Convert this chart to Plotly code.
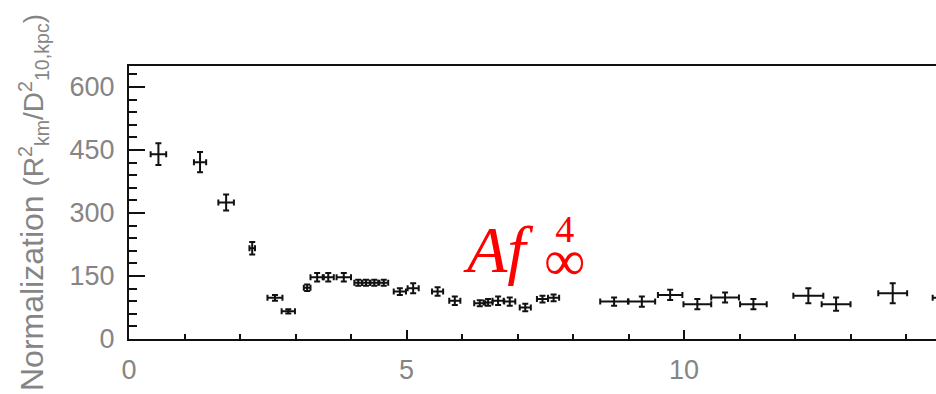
import plotly.graph_objects as go

# Normalization of the spectral fits versus time
time_s = [0.53, 1.28, 1.75, 2.22, 2.63, 2.87, 3.21, 3.39, 3.59, 3.87,
          4.13, 4.27, 4.42, 4.59, 4.88, 5.12, 5.56, 5.87, 6.32, 6.47,
          6.65, 6.86, 7.14, 7.45, 7.65, 8.74, 9.24, 9.75, 10.24, 10.74,
          11.25, 12.24, 12.74, 13.76, 14.75]
time_err = [0.14, 0.11, 0.14, 0.05, 0.135, 0.12, 0.06, 0.12, 0.10, 0.13,
            0.07, 0.07, 0.07, 0.08, 0.11, 0.10, 0.10, 0.10, 0.10, 0.08,
            0.10, 0.10, 0.10, 0.10, 0.10, 0.25, 0.24, 0.22, 0.25, 0.25,
            0.24, 0.27, 0.26, 0.26, 0.27]
norm = [440, 421, 325, 216, 98, 66, 122, 147, 147, 147,
        134, 134, 134, 134, 113, 121, 113, 91, 85, 87,
        91, 89, 75, 95, 98, 89, 89, 105, 83, 99,
        83, 103, 83, 109, 98]
norm_err = [26, 24, 19, 15, 7, 5, 8, 10, 10, 10,
            7, 7, 7, 7, 8, 12, 10, 10, 7, 8,
            10, 10, 9, 8, 8, 10, 12, 12, 12, 12,
            12, 18, 16, 24, 20]

x_ticks = [0, 5, 10]
y_ticks = [0, 150, 300, 450, 600]

W, H = 936, 394
L, R, T, B = 129, 0, 66, 55

fig = go.Figure()
fig.add_trace(go.Scatter(
    x=time_s, y=norm, mode="markers",
    marker=dict(size=2, color="#111"),
    error_x=dict(type="data", array=time_err, color="#111", thickness=2, width=3),
    error_y=dict(type="data", array=norm_err, color="#111", thickness=2, width=3),
    showlegend=False, cliponaxis=True,
))

gray = "#858585"
fig.update_layout(
    width=W, height=H,
    margin=dict(l=L, r=R, t=T, b=B),
    paper_bgcolor="white", plot_bgcolor="white",
    font=dict(family="Liberation Sans, Arial, sans-serif", color=gray, size=27),
)
fig.update_xaxes(
    range=[0, 14.54], tickvals=x_ticks, ticktext=[str(v) for v in x_ticks],
    showgrid=False, zeroline=False,
    showline=True, mirror=True, linecolor="#111", linewidth=2,
    ticks="inside", ticklen=9, tickwidth=2, tickcolor="#111",
    minor=dict(dtick=1, ticks="inside", ticklen=5, tickwidth=2, tickcolor="#111"),
    ticklabelstandoff=6,
    tickfont=dict(size=27, color=gray),
)
fig.update_yaxes(
    range=[0, 650], tickvals=y_ticks, ticktext=[str(v) for v in y_ticks],
    showgrid=False, zeroline=False,
    showline=True, mirror=False, linecolor="#111", linewidth=2,
    ticks="inside", ticklen=16, tickwidth=2, tickcolor="#111",
    minor=dict(dtick=30, ticks="inside", ticklen=8, tickwidth=2, tickcolor="#111"),
    ticklabelstandoff=7,
    tickfont=dict(size=27, color=gray),
    title=dict(
        text=("Normalization <span style='font-size:28px'>(R<sup>2</sup><sub>km</sub>"
              "/D<sup>2</sup><sub>10,kpc</sub>)</span>"),
        font=dict(size=32, color=gray), standoff=16,
    ),
)


def px(xp):
    return (xp - L) / (W - L - R)


def py(yp):
    return (H - B - yp) / (H - B - T)


# Red label: A f with a superscript 4 stacked over a subscript infinity
red = "#ff0000"
serif = "Liberation Serif, Times New Roman, serif"
fig.add_annotation(
    x=px(462), y=py(249), xref="paper", yref="paper", text="<i>Af</i>",
    showarrow=False, font=dict(family=serif, size=66, color=red),
    xanchor="left", yanchor="middle", borderpad=0,
)
fig.add_annotation(
    x=px(564), y=py(250), xref="paper", yref="paper",
    text=("<span style='font-size:38px'>4</span><br>"
          "<span style='font-size:58px'>∞</span>"),
    showarrow=False, font=dict(family=serif, size=29, color=red),
    align="center", xanchor="center", yanchor="middle", borderpad=0,
)

fig.write_html("out.html")
